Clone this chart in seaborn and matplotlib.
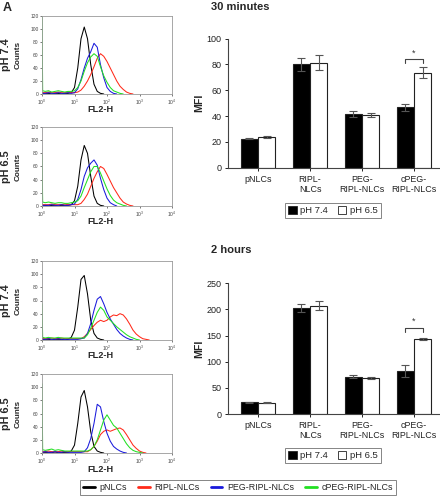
import numpy as np
import pandas as pd
import matplotlib
matplotlib.use("Agg")
import matplotlib.pyplot as plt
import seaborn as sns
from matplotlib.patches import Patch
from matplotlib.lines import Line2D

# ---------------- histogram data (FL2-H, log10 decades) ----------------
fl2_decades = [0.0, 0.02, 0.1, 0.2, 0.3, 0.4, 0.5, 0.6, 0.7, 0.8, 0.9, 1.0, 1.1, 1.2, 1.3,
               1.4, 1.5, 1.6, 1.7, 1.8, 1.9, 2.0, 2.1, 2.2, 2.3, 2.4, 2.5, 2.6, 2.7, 2.8,
               2.9, 3.0, 3.1, 3.2, 3.3, 3.4, 3.5, 4.0]

# 30 minutes, pH 7.4
h30_74_pnlc = [2, 1, 1, 1, 0, 1, 1, 0, 1, 1, 2, 10, 40, 85, 103, 85, 45, 15, 4, 1, 0]
h30_74_ripl = [3, 2, 2, 3, 2, 2, 3, 2, 2, 3, 2, 2, 3, 6, 12, 20, 30, 42, 55, 62, 58, 50, 40, 30, 20, 12, 7, 3, 1, 0]
h30_74_peg = [2, 1, 1, 2, 1, 1, 2, 1, 1, 2, 1, 2, 8, 22, 40, 55, 65, 78, 72, 45, 25, 10, 4, 1, 0]
h30_74_cpeg = [125, 5, 4, 5, 3, 4, 5, 4, 3, 4, 4, 5, 10, 20, 35, 48, 57, 62, 58, 42, 28, 18, 10, 5, 3, 1, 0]
# 30 minutes, pH 6.5
h30_65_pnlc = [2, 1, 1, 0, 1, 1, 0, 1, 1, 1, 2, 8, 30, 70, 92, 80, 45, 15, 4, 1, 0]
h30_65_ripl = [3, 2, 2, 2, 3, 2, 2, 2, 3, 2, 2, 2, 2, 4, 10, 18, 30, 42, 52, 60, 57, 48, 38, 28, 20, 12, 6, 3, 1, 0]
h30_65_peg = [2, 1, 1, 1, 2, 1, 1, 2, 1, 1, 2, 3, 10, 25, 45, 58, 65, 70, 62, 42, 25, 12, 5, 2, 0]
h30_65_cpeg = [78, 6, 5, 6, 5, 4, 5, 5, 4, 4, 5, 6, 8, 15, 28, 40, 52, 60, 60, 50, 38, 26, 16, 9, 5, 3, 1, 0]
# 2 hours, pH 7.4
h2_74_pnlc = [2, 1, 1, 1, 0, 1, 1, 1, 0, 1, 4, 15, 50, 92, 98, 70, 30, 10, 3, 1, 0]
h2_74_ripl = [3, 2, 2, 2, 3, 2, 2, 3, 2, 2, 2, 2, 2, 2, 5, 10, 16, 22, 27, 30, 28, 30, 35, 38, 37, 40, 38, 32, 24, 15, 9, 5, 2, 1, 0]
h2_74_peg = [2, 1, 1, 2, 1, 1, 2, 1, 1, 1, 1, 1, 1, 2, 3, 10, 25, 45, 62, 66, 55, 42, 32, 24, 16, 10, 6, 3, 1, 0]
h2_74_cpeg = [55, 4, 3, 4, 3, 3, 4, 3, 3, 3, 3, 3, 3, 3, 3, 8, 18, 30, 42, 50, 45, 35, 30, 25, 20, 16, 12, 8, 5, 3, 1, 0]
# 2 hours, pH 6.5
h2_65_pnlc = [2, 1, 1, 1, 1, 0, 1, 1, 1, 1, 3, 12, 45, 85, 95, 70, 32, 10, 3, 1, 0]
h2_65_ripl = [3, 2, 2, 3, 2, 2, 2, 3, 2, 2, 2, 2, 2, 2, 2, 2, 5, 10, 18, 28, 33, 35, 33, 35, 37, 38, 35, 28, 20, 12, 7, 3, 1, 0]
h2_65_peg = [2, 1, 2, 1, 1, 2, 1, 1, 2, 1, 1, 1, 1, 1, 2, 8, 22, 45, 74, 70, 48, 30, 18, 10, 6, 3, 1, 0]
h2_65_cpeg = [105, 5, 4, 5, 6, 4, 5, 4, 3, 3, 3, 3, 3, 3, 3, 3, 5, 10, 20, 35, 50, 58, 50, 42, 38, 30, 22, 14, 8, 4, 2, 1, 0]

formulations = ["pNLCs", "RIPL-NLCs", "PEG-RIPL-NLCs", "cPEG-RIPL-NLCs"]
line_colors = ["black", "#ff2a1a", "#1a1adc", "#22e022"]

# ---------------- MFI bar data ----------------
groups = ["pNLCs", "RIPL-\nNLCs", "PEG-\nRIPL-NLCs", "cPEG-\nRIPL-NLCs"]
ph_levels = ["pH 7.4", "pH 6.5"]
mfi_30_ph74 = [22.5, 80.0, 41.5, 46.8]
sd_30_ph74 = [0.6, 5.0, 2.3, 2.6]
mfi_30_ph65 = [23.5, 81.5, 41.0, 73.6]
sd_30_ph65 = [0.7, 5.5, 1.5, 4.4]
mfi_2h_ph74 = [22.0, 203.0, 71.5, 82.0]
sd_2h_ph74 = [1.0, 8.0, 2.5, 12.0]
mfi_2h_ph65 = [21.5, 207.0, 68.0, 143.5]
sd_2h_ph65 = [0.8, 9.0, 2.0, 2.0]

W, H = 440, 500

sns.set_style("ticks")
plt.rcParams["font.family"] = ["Liberation Sans", "DejaVu Sans"]

fig = plt.figure(figsize=(W / 100, H / 100), dpi=100)


def px_rect(left, top, right, bottom):
    return [left / W, 1 - bottom / H, (right - left) / W, (bottom - top) / H]


def draw_hist(top, bottom, ph_label, curves):
    ax = fig.add_axes(px_rect(42, top, 172, bottom))
    for vals, color in zip(curves, line_colors):
        xs = 10 ** np.array(fl2_decades[:len(vals)])
        sns.lineplot(x=xs, y=vals, color=color, lw=0.75, ax=ax, estimator=None, sort=False)
    ax.set_xscale("log")
    ax.set_xlim(1, 1e4)
    ax.set_ylim(0, 120)
    ax.set_yticks(range(0, 121, 20))
    ax.set_xticks([1, 10, 100, 1000, 10000])
    ax.minorticks_off()
    ax.tick_params(labelsize=3.5, length=1.5, width=0.5, pad=1, colors="#444")
    for sp in ax.spines.values():
        sp.set_color("#999")
        sp.set_linewidth(0.6)
    ax.set_xlabel("")
    ax.set_ylabel("")
    mid = (top + bottom) / 2
    fig.text(18 / W, 1 - mid / H, "Counts", rotation=90, fontsize=5.9, weight="bold",
             ha="center", va="center")
    fig.text(6 / W, 1 - mid / H, ph_label, rotation=90, fontsize=7.8, weight="bold",
             ha="center", va="center")
    fig.text(100 / W, 1 - (bottom + 16) / H, "FL2-H", fontsize=6.6, weight="bold",
             ha="center", va="center")


draw_hist(16, 94, "pH 7.4", [h30_74_pnlc, h30_74_ripl, h30_74_peg, h30_74_cpeg])
draw_hist(127, 206, "pH 6.5", [h30_65_pnlc, h30_65_ripl, h30_65_peg, h30_65_cpeg])
draw_hist(261, 340, "pH 7.4", [h2_74_pnlc, h2_74_ripl, h2_74_peg, h2_74_cpeg])
draw_hist(374, 453, "pH 6.5", [h2_65_pnlc, h2_65_ripl, h2_65_peg, h2_65_cpeg])


def draw_bars(top, bottom, ymax, ystep, m74, s74, m65, s65, title, title_y, legend_y, bracket):
    ax = fig.add_axes(px_rect(228, top, 440, bottom))
    df = pd.DataFrame({
        "group": groups + groups,
        "pH": [ph_levels[0]] * 4 + [ph_levels[1]] * 4,
        "mfi": m74 + m65,
    })
    sns.barplot(data=df, x="group", y="mfi", hue="pH", order=groups, hue_order=ph_levels,
                palette={"pH 7.4": "black", "pH 6.5": "white"}, width=0.66, gap=0.03,
                edgecolor="#222", linewidth=0.8, errorbar=None, legend=False, ax=ax)
    centers = []
    for cont, means, sds in zip(ax.containers, [m74, m65], [s74, s65]):
        xs = [b.get_x() + b.get_width() / 2 for b in cont]
        centers.append(xs)
        ax.errorbar(xs, means, yerr=sds, fmt="none", ecolor="#555", elinewidth=0.8,
                    capsize=3, capthick=0.8, zorder=3)
    lo, hi, star = bracket
    x0, x1 = centers[0][3], centers[1][3]
    ax.plot([x0, x0, x1, x1], [lo, hi, hi, lo], color="#444", lw=0.8)
    ax.text((x0 + x1) / 2, star, "*", ha="center", va="center", fontsize=6.5, color="#333")

    ax.set_xlim(-0.577, 3.5)
    ax.set_ylim(0, ymax)
    ax.set_yticks(np.arange(0, ymax + 1, ystep))
    sns.despine(ax=ax)
    for sp in ax.spines.values():
        sp.set_color("#444")
        sp.set_linewidth(0.8)
    ax.tick_params(axis="y", labelsize=6.5, length=2.5, width=0.7, pad=2, colors="#222")
    ax.tick_params(axis="x", labelsize=6.4, length=2.5, width=0.7, pad=2.5, colors="#222")
    ax.set_xlabel("")
    ax.set_ylabel("")
    mid = (top + bottom) / 2
    fig.text(199 / W, 1 - mid / H, "MFI", rotation=90, fontsize=7.6, weight="bold",
             ha="center", va="center")
    fig.text(211 / W, 1 - title_y / H, title, fontsize=8, weight="bold", ha="left", va="center")
    handles = [Patch(facecolor="black", edgecolor="#222", lw=0.6),
               Patch(facecolor="white", edgecolor="#222", lw=0.6)]
    fig.legend(handles, ph_levels, loc="center", bbox_to_anchor=(333 / W, 1 - legend_y / H),
               ncol=2, frameon=True, fancybox=False, edgecolor="#666", fontsize=6.8,
               handlelength=0.9, handleheight=0.9, handletextpad=0.4, columnspacing=1.0,
               borderpad=0.35).get_frame().set_linewidth(0.7)


draw_bars(38.7, 167.7, 100, 20, mfi_30_ph74, sd_30_ph74, mfi_30_ph65, sd_30_ph65,
          "30 minutes", 7, 210.5, (81, 84, 88.5))
draw_bars(283.3, 414, 250, 50, mfi_2h_ph74, sd_2h_ph74, mfi_2h_ph65, sd_2h_ph65,
          "2 hours", 250, 455.5, (156, 165, 177))

# panel letter
fig.text(3 / W, 1 - 8 / H, "A", fontsize=9, weight="bold", ha="left", va="center")

# shared line legend
line_handles = [Line2D([0], [0], color=c, lw=2) for c in line_colors]
leg = fig.legend(line_handles, formulations, loc="center", bbox_to_anchor=(238 / W, 1 - 487.5 / H),
                 ncol=4, frameon=True, fancybox=False, edgecolor="#666", fontsize=6.4,
                 handlelength=1.3, handletextpad=0.5, columnspacing=1.3, borderpad=0.35)
leg.get_frame().set_linewidth(0.7)

fig.savefig("out.png", dpi=100)
